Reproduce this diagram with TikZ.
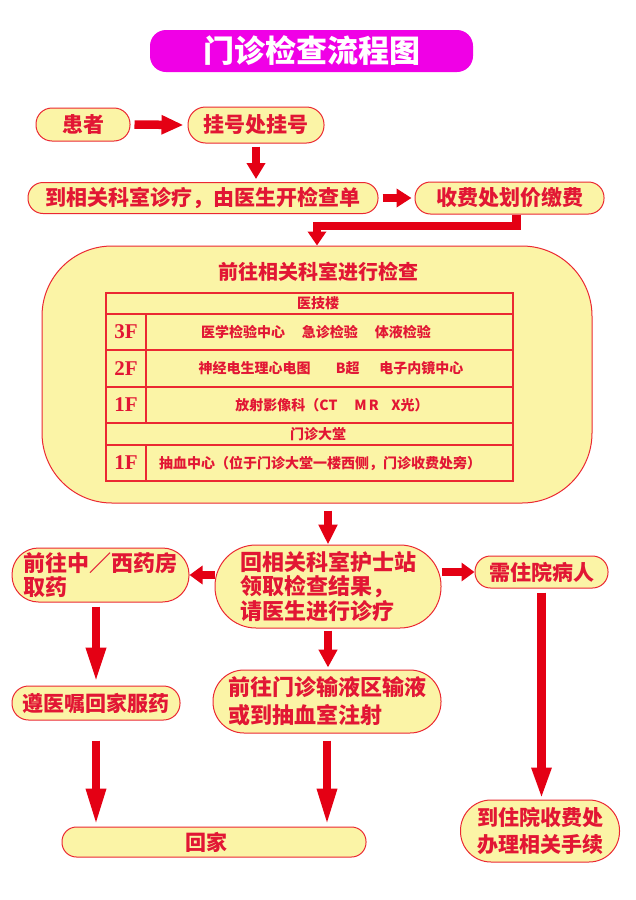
\documentclass[tikz,border=0pt]{standalone}
\usepackage{fontspec}
\setmainfont{Noto Sans CJK SC}
\newfontfamily\serifb{Liberation Serif}
\usetikzlibrary{arrows.meta,calc}
\definecolor{txtred}{RGB}{226,22,52}
\definecolor{arrred}{RGB}{228,0,20}
\definecolor{bordred}{RGB}{235,40,50}
\definecolor{boxyel}{RGB}{251,244,166}
\definecolor{titlemag}{RGB}{240,0,230}
\tikzset{
  box/.style={draw=bordred, line width=1pt, fill=boxyel, text=txtred, inner sep=0pt,
    font=\bfseries\fontsize{21}{25}\selectfont, align=center},
  arr/.style={draw=arrred, line width=8.5pt, -{Triangle[length=#1,width=18pt]}},
  arr/.default=16pt,
  tbl/.style={text=txtred, inner sep=0pt, font=\bfseries\fontsize{14}{16}\selectfont},
  flr/.style={text=txtred, inner sep=0pt, font=\serifb\bfseries\fontsize{21}{22}\selectfont}
}
\begin{document}
\begin{tikzpicture}[x=1pt,y=-1pt]
\fill[white] (0,0) rectangle (636,900);
\useasboundingbox (0,0) rectangle (636,900);
% title
\node[fill=titlemag, rounded corners=16pt, minimum width=323pt, minimum height=42pt, inner sep=0pt,
  text=white, font=\bfseries\fontsize{31}{33}\selectfont] (title) at (311.5,51) {门诊检查流程图};
% top flow
\node[box, minimum width=94pt, minimum height=33pt, rounded corners=16pt] (pat) at (83,124.5) {患者};
\node[box, minimum width=136pt, minimum height=36pt, rounded corners=17.5pt] (reg) at (256,125) {挂号处挂号};
\node[box, minimum width=350pt, minimum height=31pt, rounded corners=15pt] (dept) at (203,198) {到相关科室诊疗，由医生开检查单};
\node[box, minimum width=189pt, minimum height=32pt, rounded corners=15.5pt] (fee) at (509.5,198) {收费处划价缴费};
% exam box
\node[box, minimum width=550pt, minimum height=257pt, rounded corners=70pt] (exam) at (317,374.5) {};
\node[text=txtred, inner sep=0pt, font=\bfseries\fontsize{20}{22}\selectfont] (examt) at (318,272) {前往相关科室进行检查};
% table
\draw[bordred, line width=1.3pt] (106,293) rectangle (513,481);
\foreach \yy in {314,350,387,423,445} \draw[bordred, line width=1.3pt] (106,\yy) -- (513,\yy);
\draw[bordred, line width=1.3pt] (146,314) -- (146,423);
\draw[bordred, line width=1.3pt] (146,445) -- (146,481);
\node[tbl] (h1) at (318,303.5) {医技楼};
\node[flr] (f3) at (126,332) {3F};
\node[flr] (f2) at (126,368.5) {2F};
\node[flr] (f1) at (126,405) {1F};
\node[flr] (f0) at (126,463) {1F};
\node[tbl] (r3) at (316,332) {医学检验中心\hspace{1.2em}急诊检验\hspace{1.2em}体液检验};
\node[tbl] (r2) at (331,368.5) {神经电生理心电图\hspace{1.8em}B超\hspace{1.4em}电子内镜中心};
\node[tbl] (r1) at (332,405) {放射影像科（CT\hspace{1.2em}M\,R\hspace{0.9em}X光）};
\node[tbl] (h2) at (318,434) {门诊大堂};
\node[tbl, anchor=west] (r0) at (159,463) {抽血中心（位于门诊大堂一楼西侧，门诊收费处旁）};
% lower flow
\node[box, minimum width=226pt, minimum height=83pt, rounded corners=41pt, align=left,
  font=\bfseries\fontsize{22}{24.5}\selectfont] (nurse) at (328,586.5)
  {回相关科室护士站\\领取检查结果，\\请医生进行诊疗};
\node[box, minimum width=177pt, minimum height=54pt, rounded corners=26.5pt, align=left,
  font=\bfseries\fontsize{22}{24}\selectfont] (pharm) at (100.5,575)
  {前往中／西药房\\取药};
\node[box, minimum width=133pt, minimum height=32pt, rounded corners=15.5pt] (inpat) at (541.5,572) {需住院病人};
\node[box, minimum width=168pt, minimum height=34pt, rounded corners=16.5pt] (med) at (96,703) {遵医嘱回家服药};
\node[box, minimum width=228pt, minimum height=63pt, rounded corners=31pt, align=left,
  font=\bfseries\fontsize{22}{28}\selectfont] (inf) at (327,701.5) {前往门诊输液区输液\\或到抽血室注射};
\node[box, minimum width=304pt, minimum height=30pt, rounded corners=14.5pt] (home) at (214,842) {\hspace*{-16pt}回家};
\node[box, minimum width=159pt, minimum height=62pt, rounded corners=30.5pt,
  font=\bfseries\fontsize{21}{27}\selectfont] (hosp) at (540,831) {到住院收费处\\办理相关手续};
% connectors
\draw[arr=22pt] ([xshift=4pt]pat.east) -- ([xshift=-4pt]reg.west);
\draw[arr=16pt] ([yshift=-3pt]reg.south) -- ([yshift=3pt]reg.south |- dept.north);
\draw[arr=15pt] ([xshift=4pt]dept.east) -- ([xshift=-3pt]fee.west);
\coordinate (elb) at (317,226);
\draw[arr=14pt] ([xshift=7pt]fee.south) |- (elb) -- (elb |- exam.north);
\draw[arr=20pt] ([yshift=-7pt]exam.south -| nurse.north) -- (nurse.north);
\draw[arr=13pt] (nurse.west |- pharm.east) -- (pharm.east);
\draw[arr=13pt] (nurse.east |- inpat.west) -- (inpat.west);
\draw[arr=36pt] ([yshift=-4pt]pharm.south -| med.north) -- ([yshift=2pt]med.north);
\draw[arr=18pt] ([yshift=-2pt]nurse.south) -- ([yshift=2pt]nurse.south |- inf.north);
\draw[arr=38pt] ([yshift=-20pt]med.south) -- (med.south |- home.north);
\draw[arr=38pt] ([yshift=-7pt]inf.south) -- (inf.south |- home.north);
\draw[arr=32pt] ([yshift=-4pt]inpat.south) -- (inpat.south |- hosp.north);
\end{tikzpicture}
\end{document}
